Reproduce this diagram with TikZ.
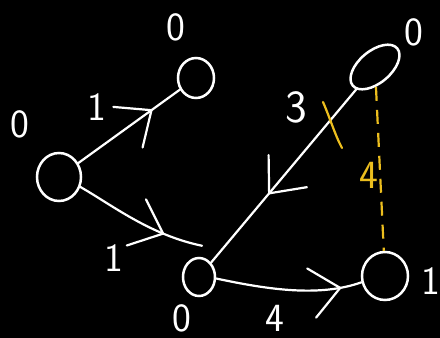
\documentclass[tikz,border=0pt]{standalone}
\usetikzlibrary{shapes.geometric,arrows.meta,decorations.markings,calc}
\definecolor{hy}{RGB}{236,190,30}
\begin{document}
\begin{tikzpicture}[x=1pt,y=-1pt,
  ring/.style={draw=white,line width=2.5pt,ellipse,inner sep=0pt},
  lbl/.style={text=white,font=\sffamily\fontsize{40}{40}\selectfont,inner sep=0pt},
  edge/.style={draw=white,line width=2.2pt,line cap=round},
  midarrow/.style={postaction={decorate},decoration={markings,mark=at position #1 with {\draw[white,line width=2.2pt,line cap=round,line join=round] (-29pt,25pt) -- (0pt,0pt) -- (-29pt,-25pt);}}}
]
\useasboundingbox (0,0) rectangle (440,338);
\fill[black] (0,0) rectangle (440,338);
% nodes
\node[ring,minimum width=44pt,minimum height=48pt] (A) at (59,177) {};
\node[ring,minimum width=36pt,minimum height=40pt] (B) at (196,78) {};
\node[ring,minimum width=58pt,minimum height=32pt,rotate=40] (C) at (375,67) {};
\node[ring,minimum width=32pt,minimum height=38pt] (D) at (199,277) {};
\node[ring,minimum width=46pt,minimum height=48pt] (E) at (385,276) {};
% node labels
\node[lbl] (la) at (20,124) {0};
\node[lbl] (lb) at (176,27) {0};
\node[lbl] (lc) at (414,32) {0};
\node[lbl] (ld) at (182,318) {0};
\node[lbl] (le) at (431,281) {1};
% edge labels
\node[lbl] (wab) at (97,107) {1};
\node[lbl] (wad) at (114,258) {1};
\node[lbl,font=\sffamily\fontsize{46}{46}\selectfont] (wcd) at (296,107) {3};
\node[lbl] (wde) at (275,318) {4};
\node[lbl,text=hy] (wce) at (369,175) {4};
% edges
\coordinate (dend) at ($(D.north)+(3,-11)$);
\draw[edge,midarrow=0.72] (A) -- (B);
\draw[edge,midarrow=0.7] (A.-25) .. controls (112,205) and (150,235) .. (dend);
\draw[edge,midarrow=0.6] (C) -- (D);
\draw[edge,midarrow=0.85] (D.-5) .. controls (270,290) and (320,297) .. (E.195);
% yellow marks
\draw[hy,line width=2.2pt,line cap=round] (323,102) .. controls (330,118) and (335,135) .. (342,148);
\draw[hy,line width=2.2pt,dash pattern=on 14pt off 9pt] (C) -- (E);
\end{tikzpicture}
\end{document}
